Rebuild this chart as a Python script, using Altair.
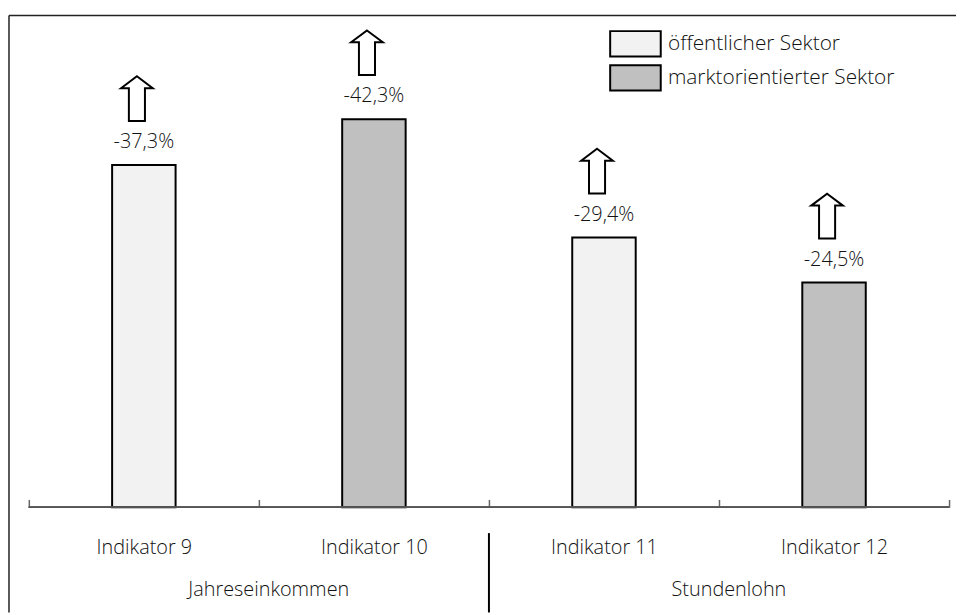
import altair as alt
import pandas as pd

# ---- data ----
indicators = ["Indikator 9", "Indikator 10", "Indikator 11", "Indikator 12"]
values = [-37.3, -42.3, -29.4, -24.5]
sectors = ["öffentlicher Sektor", "marktorientierter Sektor",
           "öffentlicher Sektor", "marktorientierter Sektor"]
sector_order = ["öffentlicher Sektor", "marktorientierter Sektor"]
sector_colors = ["#f2f2f2", "#c0c0c0"]
groups = ["Jahreseinkommen", "Stundenlohn"]
group_first = ["Indikator 9", "Indikator 11"]

df = pd.DataFrame({"indicator": indicators, "value": values, "sector": sectors})
gdf = pd.DataFrame({"indicator": group_first, "group": groups})
divdf = pd.DataFrame({"indicator": group_first[1:]})
one = pd.DataFrame({"k": [0]})

W, H = 928, 496
FONT = "Open Sans"
TXT = "#111111"
FS = 20

arrow_path = "M0,-1 L0.71,-0.47 L0.36,-0.47 L0.36,1 L-0.36,1 L-0.36,-0.47 L-0.71,-0.47 Z"
rect_path = "M-2,-1 L2,-1 L2,1 L-2,1 Z"

xscale = alt.Scale(domain=indicators, paddingInner=0, paddingOuter=0)
yscale = alt.Scale(domain=[0, 53.6], nice=False, zero=True)

x_main = alt.X(
    "indicator:N", scale=xscale,
    axis=alt.Axis(title=None, domain=False, ticks=True, tickBand="extent",
                  tickSize=8, offset=-8, labelPadding=31, labelFontSize=FS,
                  labelFont=FONT, labelFontWeight=300, labelColor=TXT,
                  tickColor="#666", tickWidth=1.5, labelAngle=0, grid=False),
)
y_main = alt.Y("height:Q", scale=yscale, axis=None)

base = alt.Chart(df).transform_calculate(
    height="abs(datum.value)",
    label="replace(replace(format(datum.value, '.1f'), '.', ','), '\u2212', '-') + '%'",
)

bars = base.mark_bar(size=64, stroke="black", strokeWidth=2).encode(
    x=x_main,
    y=y_main,
    fill=alt.Fill(
        "sector:N",
        scale=alt.Scale(domain=sector_order, range=sector_colors),
        legend=alt.Legend(
            title=None, orient="none", legendX=597.75, legendY=14.5,
            symbolType=rect_path, symbolSize=650, symbolStrokeColor="black",
            symbolStrokeWidth=2, symbolOpacity=1, labelFontSize=21,
            labelFont=FONT, labelFontWeight=300, labelColor=TXT,
            labelOffset=18.75, labelLimit=400, rowPadding=0.5, padding=0,
        ),
    ),
)

labels = base.mark_text(dy=-23, baseline="middle", fontSize=FS, font=FONT,
                        fontWeight=300, color=TXT).encode(
    x=alt.X("indicator:N"), y=alt.Y("height:Q"), text="label:N"
)

arrows = base.mark_point(shape=arrow_path, filled=True, fill="white",
                         stroke="black", strokeWidth=2, size=2025, opacity=1,
                         xOffset=-7, yOffset=-67).encode(
    x=alt.X("indicator:N"), y=alt.Y("height:Q")
)

baseline = base.mark_rule(color="#555", strokeWidth=1.5).encode(
    y=alt.datum(0), x=alt.value(0), x2=alt.value(W)
)

group_text = alt.Chart(gdf).mark_text(dx=10, baseline="middle", fontSize=FS,
                                      font=FONT, fontWeight=300, color=TXT).encode(
    x=alt.X("indicator:N", bandPosition=1), y=alt.value(579), text="group:N"
)

divider = alt.Chart(divdf).mark_rule(color="black", strokeWidth=2).encode(
    x=alt.X("indicator:N", bandPosition=0), y=alt.value(522), y2=alt.value(602)
)

frame_left = alt.Chart(one).mark_rule(color="#222", strokeWidth=1.5).encode(
    x=alt.value(-20), y=alt.value(0), y2=alt.value(602)
)
frame_top = alt.Chart(one).mark_rule(color="#222", strokeWidth=1.5).encode(
    y=alt.value(0), x=alt.value(-20), x2=alt.value(935)
)

chart = alt.layer(
    bars, labels, arrows, baseline, group_text, divider, frame_left, frame_top
).properties(
    width=W, height=H,
    autosize=alt.AutoSizeParams(type="none"),
    padding={"left": 21, "top": 5, "right": 7, "bottom": 106},
).configure(font=FONT).configure_view(stroke=None)

chart.save("out.html", embed_options={"renderer": "svg", "actions": False})
